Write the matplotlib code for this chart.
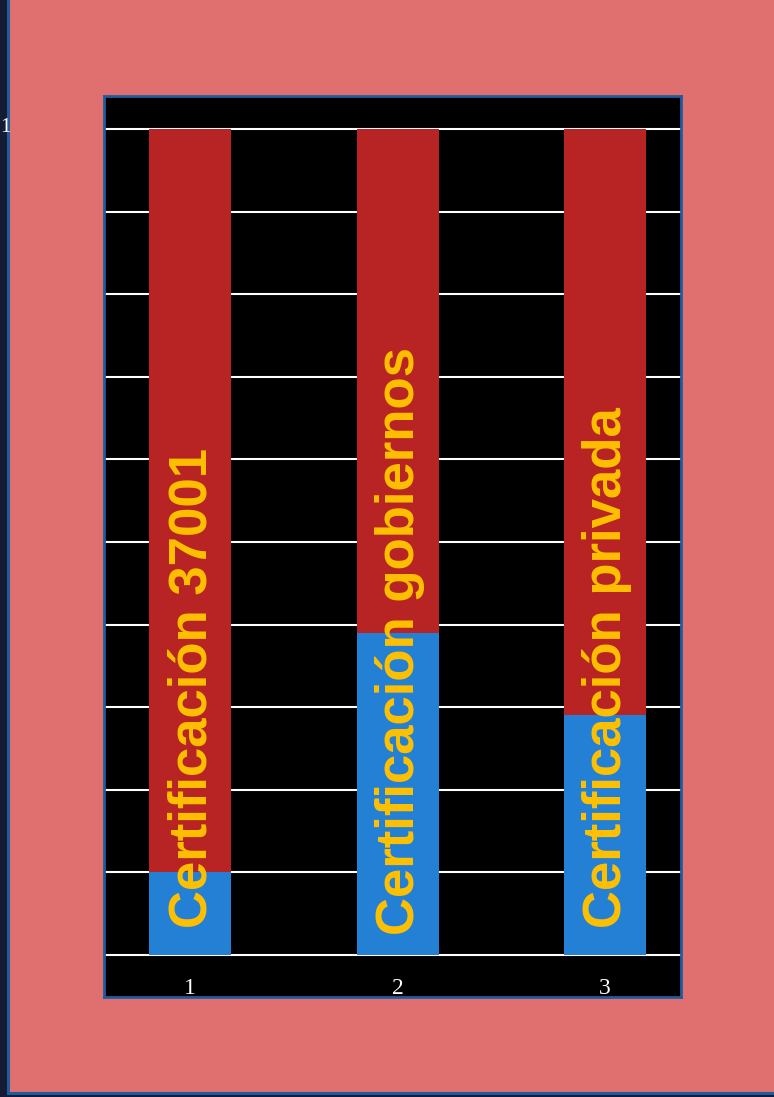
import matplotlib
matplotlib.use("Agg")
import matplotlib.pyplot as plt
from matplotlib.patches import Rectangle

# =============================================================================
# Data
# =============================================================================

positions = [1, 2, 3]
tick_labels = ["1", "2", "3"]
blue_values = [10, 39, 29]
red_values = [90, 61, 71]
bar_texts = ["Certificación 37001", "Certificación gobiernos", "Certificación privada"]
text_bottoms = [3.3, 2.4, 3.3]

# =============================================================================
# Colours
# =============================================================================

NAVY = "#151b33"
SALMON = "#e07070"
BORDER = "#1f5c9e"
RED = "#b82424"
BLUE = "#2480d4"
YELLOW = "#ffc000"

# =============================================================================
# Figure
# =============================================================================

fig = plt.figure(figsize=(7.74, 10.97), dpi=100, facecolor=NAVY)
fig.patches.append(Rectangle((8 / 774, 4 / 1097), 1.0, 1.0, transform=fig.transFigure,
                             facecolor=SALMON, edgecolor=BORDER, linewidth=2.2, zorder=-5))
fig.text(0.0, 1 - 127 / 1097, "1", color="white", family="Liberation Serif",
         fontsize=15, ha="left", va="center")

ax = fig.add_axes([104 / 774, 1 - 997 / 1097, (681 - 104) / 774, (997 - 96) / 1097])
ax.set_zorder(2)
ax.set_facecolor("black")

ax.bar(positions, blue_values, width=0.395, color=BLUE, zorder=2)
ax.bar(positions, red_values, width=0.395, bottom=blue_values, color=RED, zorder=2)

for x, txt, yb in zip(positions, bar_texts, text_bottoms):
    ax.text(x + 0.01, yb, txt, rotation=90, ha="center", va="bottom", color=YELLOW,
            family="Liberation Sans", fontweight="bold", fontsize=38, zorder=3)

ax.set_xlim(0.5855, 3.366)
ax.set_ylim(-5.08, 104.0)
ax.set_yticks(range(0, 101, 10))
ax.set_yticklabels([])
ax.set_xticks(positions)
ax.set_xticklabels(tick_labels, color="white", family="Liberation Serif", fontsize=17)
ax.tick_params(length=0, pad=-14)
ax.grid(True, axis="y", color="white", linewidth=1.5, zorder=1)
ax.set_axisbelow(True)

for s in ax.spines.values():
    s.set_color(BORDER)
    s.set_linewidth(2)

fig.savefig("out.png", dpi=100, facecolor=NAVY)
